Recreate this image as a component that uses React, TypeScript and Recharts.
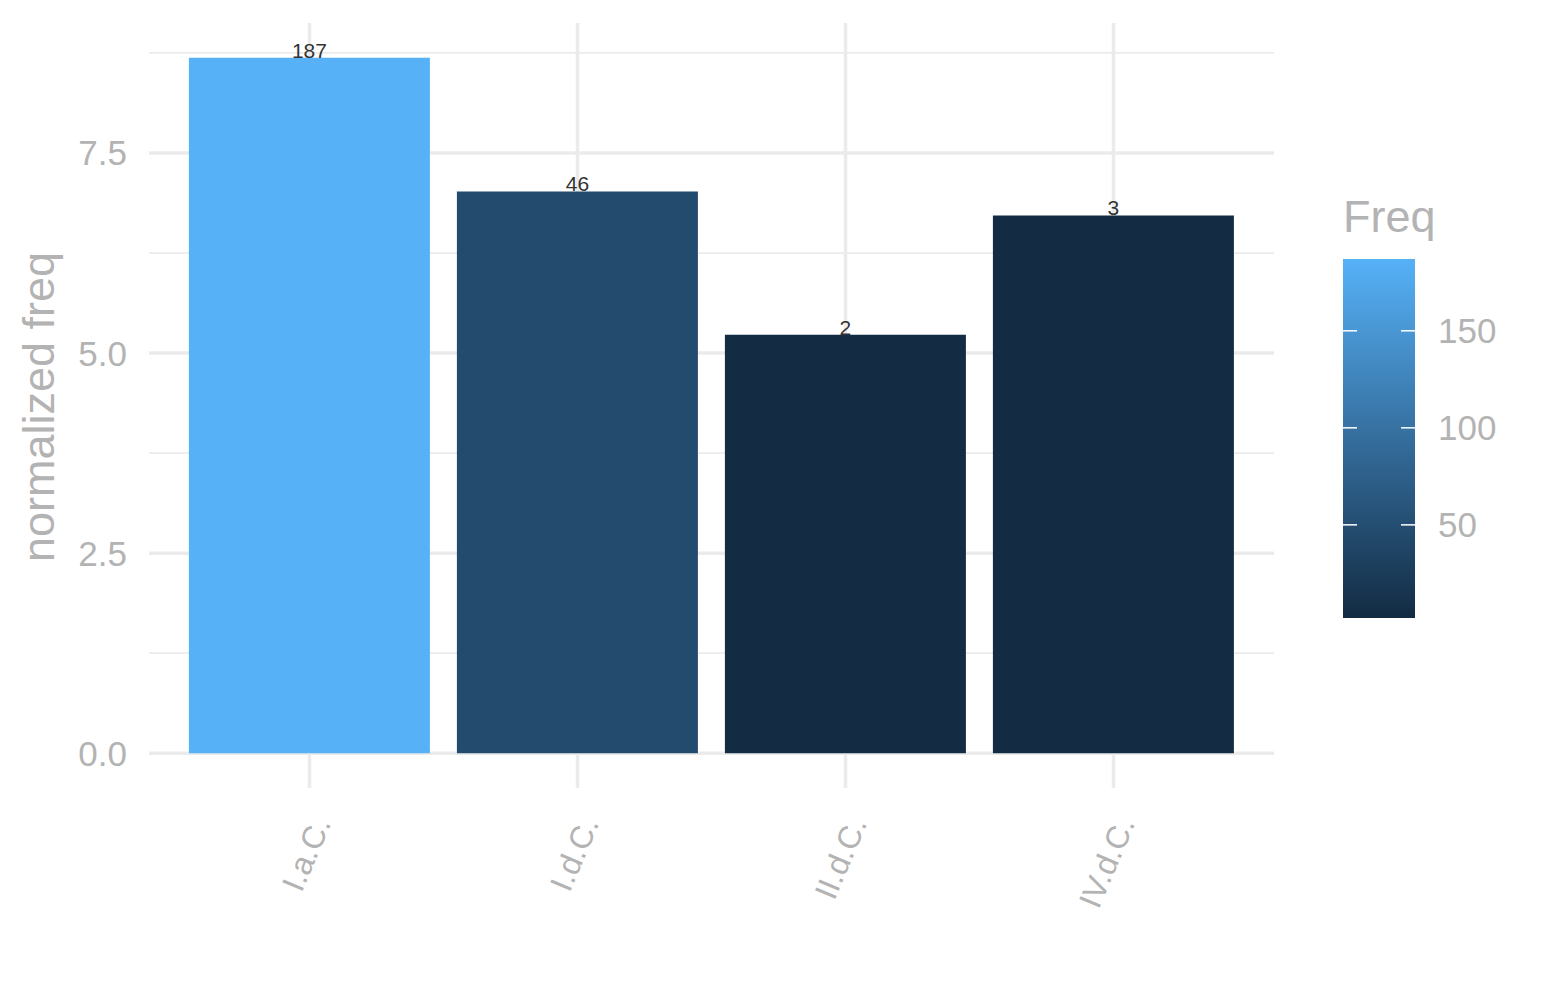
import React from 'react';
import { BarChart, Bar, XAxis, YAxis, CartesianGrid, Cell, LabelList, Customized } from 'recharts';

const categories = ['I.a.C.', 'I.d.C.', 'II.d.C.', 'IV.d.C.'];
const normalizedFreq = [8.69, 7.02, 5.23, 6.72];
const freq = [187, 46, 2, 3];
const yMajorTicks = [0, 2.5, 5, 7.5];
const yMinorTicks = [1.25, 3.75, 6.25, 8.75];
const legendTicks = [50, 100, 150];
const lowColor = '#132B43';
const highColor = '#56B1F7';

const FONT = '"Liberation Sans", Arial, sans-serif';
const GRAY = '#B3B3B3';
const GRID = '#EBEBEB';

const data = categories.map((c, i) => ({ category: c, value: normalizedFreq[i], freq: freq[i] }));

const yMaxData = Math.max(...normalizedFreq);
const yDomain: [number, number] = [-0.05 * yMaxData, yMaxData * 1.05];

const fMin = Math.min(...freq);
const fMax = Math.max(...freq);

function hexToRgb(h: string) {
  const n = parseInt(h.slice(1), 16);
  return [(n >> 16) & 255, (n >> 8) & 255, n & 255];
}
function colorFor(v: number) {
  const t = (v - fMin) / (fMax - fMin);
  const a = hexToRgb(lowColor);
  const b = hexToRgb(highColor);
  const c = a.map((x, i) => Math.round(x + (b[i] - x) * t));
  return '#' + c.map((x) => x.toString(16).padStart(2, '0')).join('');
}

const XTick = (props: any) => {
  const { x, y, payload } = props;
  const ax = x + 22;
  const ay = y + 35;
  return (
    <text
      x={ax}
      y={ay}
      transform={`rotate(-67, ${ax}, ${ay})`}
      textAnchor="end"
      fontSize={32}
      fill={GRAY}
      fontFamily={FONT}
    >
      {payload.value}
    </text>
  );
};

const BarTopLabel = (props: any) => {
  const { x, y, width, value } = props;
  return (
    <text x={x + width / 2} y={y} textAnchor="middle" fontSize={21} fill="#333333" fontFamily={FONT}>
      {value}
    </text>
  );
};

const LEG_X = 1343;
const LEG_W = 72;
const LEG_TOP = 259;
const LEG_BOTTOM = 618;

const legendY = (v: number) => LEG_BOTTOM - ((v - fMin) / (fMax - fMin)) * (LEG_BOTTOM - LEG_TOP);

const Extras = () => (
  <g>
    <text
      x={54}
      y={407}
      transform="rotate(-90, 54, 407)"
      textAnchor="middle"
      fontSize={45}
      fill={GRAY}
      fontFamily={FONT}
    >
      normalized freq
    </text>
    <defs>
      <linearGradient id="freqGrad" x1="0" y1="1" x2="0" y2="0">
        <stop offset="0%" stopColor={lowColor} />
        <stop offset="100%" stopColor={highColor} />
      </linearGradient>
    </defs>
    <text x={LEG_X} y={232} fontSize={45} fill={GRAY} fontFamily={FONT}>
      Freq
    </text>
    <rect x={LEG_X} y={LEG_TOP} width={LEG_W} height={LEG_BOTTOM - LEG_TOP} fill="url(#freqGrad)" />
    {legendTicks.map((t) => {
      const ty = legendY(t);
      return (
        <g key={t}>
          <line x1={LEG_X} x2={LEG_X + 14} y1={ty} y2={ty} stroke="#FFFFFF" strokeWidth={1.5} />
          <line x1={LEG_X + LEG_W - 14} x2={LEG_X + LEG_W} y1={ty} y2={ty} stroke="#FFFFFF" strokeWidth={1.5} />
          <text x={1438} y={ty} dy="0.355em" fontSize={35} fill={GRAY} fontFamily={FONT}>
            {t}
          </text>
        </g>
      );
    })}
  </g>
);

export default function App() {
  return (
    <div style={{ position: 'absolute', left: 0, top: 0, width: 1545, height: 1000, background: '#ffffff' }}>
      <BarChart
        width={1545}
        height={1000}
        data={data}
        margin={{ top: 23, right: 271, bottom: 62, left: 49 }}
        barCategoryGap="5%"
      >
        <CartesianGrid vertical={true} horizontal={false} verticalValues={categories} stroke={GRID} strokeWidth={3.5} />
        <CartesianGrid vertical={false} horizontal={true} horizontalValues={yMinorTicks} stroke={GRID} strokeWidth={1.75} />
        <CartesianGrid vertical={false} horizontal={true} horizontalValues={yMajorTicks} stroke={GRID} strokeWidth={3.5} />
        <XAxis
          dataKey="category"
          type="category"
          height={150}
          padding={{ left: 26.5, right: 26.5 }}
          axisLine={false}
          tickLine={false}
          tickSize={0}
          tickMargin={0}
          interval={0}
          tick={<XTick />}
        />
        <YAxis
          type="number"
          width={100}
          domain={yDomain}
          ticks={yMajorTicks}
          allowDataOverflow={true}
          axisLine={false}
          tickLine={false}
          tickSize={0}
          tickMargin={22}
          tickFormatter={(v: number) => v.toFixed(1)}
          tick={{ fill: GRAY, fontSize: 35, fontFamily: FONT }}
        />
        <Bar dataKey="value" isAnimationActive={false}>
          {data.map((d, i) => (
            <Cell key={i} fill={colorFor(d.freq)} />
          ))}
          <LabelList dataKey="freq" content={<BarTopLabel />} />
        </Bar>
        <Customized component={Extras} />
      </BarChart>
    </div>
  );
}
